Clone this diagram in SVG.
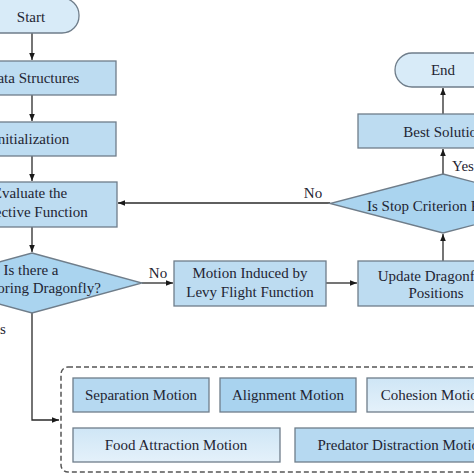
<svg xmlns="http://www.w3.org/2000/svg" width="474" height="474" viewBox="0 0 474 474">
<defs>
<marker id="ah" viewBox="0 0 10 10" refX="10" refY="5" markerWidth="7" markerHeight="7" orient="auto" markerUnits="userSpaceOnUse">
<path d="M0,1 L10,5 L0,9 Z" fill="#1a1a1a"/>
</marker>
<linearGradient id="lg" x1="0" y1="0" x2="0" y2="1">
<stop offset="0" stop-color="#cfe6f6"/>
<stop offset="1" stop-color="#e4f1fa"/>
</linearGradient>
</defs>
<style>
.box{fill:#bddcf1;stroke:#6f7d8a;stroke-width:1.3}
.term{fill:#d8ebf8;stroke:#6f7d8a;stroke-width:1.3}
.dia{fill:#aad4ef;stroke:#6f7d8a;stroke-width:1.3}
.light{fill:url(#lg);stroke:#6f7d8a;stroke-width:1.3}
.dark{fill:#a9d3ef;stroke:#6f7d8a;stroke-width:1.3}
.mid{fill:#b6d9f1;stroke:#6f7d8a;stroke-width:1.3}
text{font-family:"Liberation Serif","Times New Roman",serif;font-size:15px;fill:#1f2533;text-anchor:middle}
.c{fill:none;stroke:#2a2a2a;stroke-width:1.3}
.dash{fill:none;stroke:#555;stroke-width:1.5;stroke-dasharray:5 3}
</style>
<g id="connectors">
<path class="c" d="M32,33 V60" marker-end="url(#ah)"/>
<path class="c" d="M32,95 V121" marker-end="url(#ah)"/>
<path class="c" d="M32,156 V181" marker-end="url(#ah)"/>
<path class="c" d="M32,227 V252" marker-end="url(#ah)"/>
<path class="c" d="M142,283 H173" marker-end="url(#ah)"/>
<path class="c" d="M326,283 H357" marker-end="url(#ah)"/>
<path class="c" d="M443,261 V234" marker-end="url(#ah)"/>
<path class="c" d="M330,203 H118" marker-end="url(#ah)"/>
<path class="c" d="M443,174 V149" marker-end="url(#ah)"/>
<path class="c" d="M443,114 V88" marker-end="url(#ah)"/>
<path class="c" d="M32,313 V420 H59" marker-end="url(#ah)"/>
<text x="158" y="278">No</text>
<text x="313" y="198">No</text>
<text x="463" y="171">Yes</text>
<text x="-5" y="334">Yes</text>
</g>
<g id="start">
<rect class="term" x="-20" y="-2" width="99" height="35" rx="17"/>
<text x="31" y="22">Start</text>
</g>
<g id="data-structures">
<rect class="box" x="-52" y="61" width="168" height="34"/>
<text x="33" y="83">Data Structures</text>
</g>
<g id="initialization">
<rect class="box" x="-52" y="122" width="168" height="34"/>
<text x="31" y="144">Initialization</text>
</g>
<g id="evaluate">
<rect class="box" x="-52" y="182" width="169" height="45"/>
<text x="30" y="198">Evaluate the</text>
<text x="30" y="217">Objective Function</text>
</g>
<g id="neighbor">
<path class="dia" d="M32,253 L142,283 L32,313 L-78,283 Z"/>
<text x="31" y="275">Is there a</text>
<text x="27" y="293">Neighboring Dragonfly?</text>
</g>
<g id="levy">
<rect class="box" x="174" y="261" width="152" height="45"/>
<text x="250" y="278">Motion Induced by</text>
<text x="250" y="297">Levy Flight Function</text>
</g>
<g id="update">
<rect class="box" x="358" y="261" width="170" height="45"/>
<text x="432" y="281">Update Dragonfly</text>
<text x="436" y="298">Positions</text>
</g>
<g id="stop">
<path class="dia" d="M443,174 L556,203.5 L443,233 L330,203.5 Z"/>
<text x="448" y="211">Is Stop Criterion Reached?</text>
</g>
<g id="best">
<rect class="box" x="358" y="114" width="170" height="34"/>
<text x="444" y="137">Best Solution</text>
</g>
<g id="end">
<rect class="term" x="395" y="53" width="110" height="34" rx="17"/>
<text x="443" y="75">End</text>
</g>
<g id="motions">
<rect class="dash" x="61" y="367" width="430" height="105" rx="7"/>
<g id="separation">
<rect class="mid" x="73" y="378" width="136" height="34"/>
<text x="141" y="400">Separation Motion</text>
</g>
<g id="alignment">
<rect class="dark" x="220" y="378" width="136" height="34"/>
<text x="288" y="400">Alignment Motion</text>
</g>
<g id="cohesion">
<rect class="light" x="367" y="378" width="136" height="34"/>
<text x="433" y="400">Cohesion Motion</text>
</g>
<g id="food">
<rect class="light" x="73" y="428" width="207" height="34"/>
<text x="176" y="450">Food Attraction Motion</text>
</g>
<g id="predator">
<rect class="mid" x="295" y="428" width="210" height="34"/>
<text x="402" y="450">Predator Distraction Motion</text>
</g>
</g>
</svg>
